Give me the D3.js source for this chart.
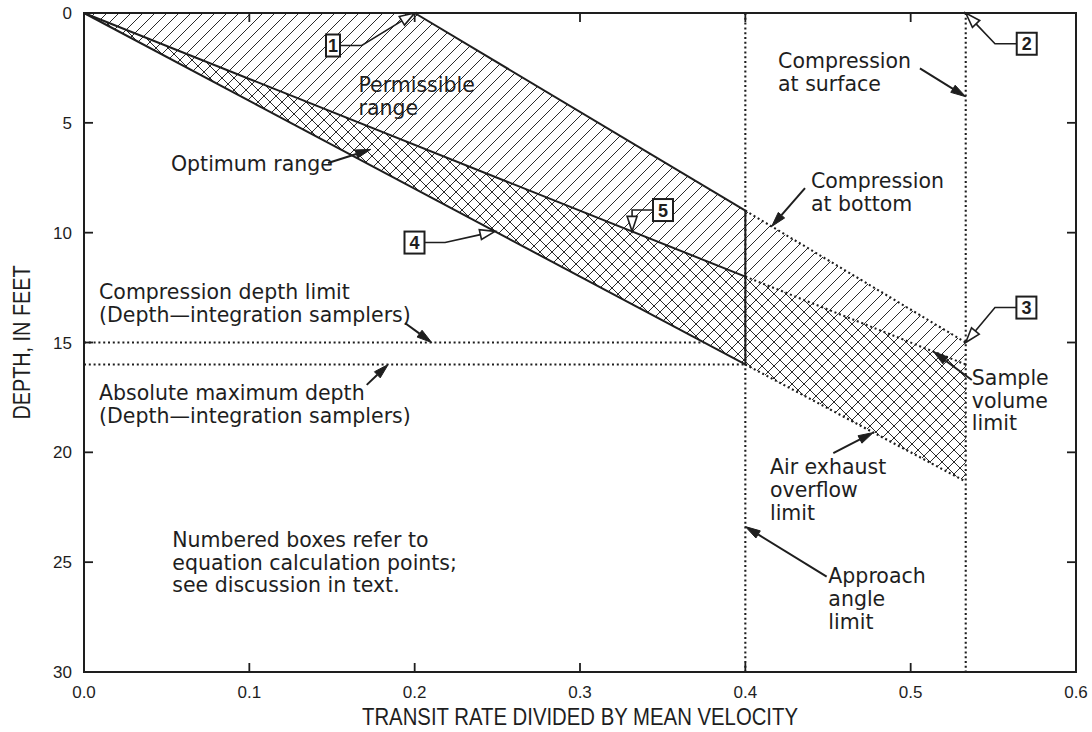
<!DOCTYPE html>
<html>
<head>
<meta charset="utf-8">
<script src="https://cdn.jsdelivr.net/npm/d3@7"></script>
<style>
  body { margin: 0; background: #fff; }
  svg { display: block; }
</style>
</head>
<body>
<script>
// ---- axis ticks and titles ----
const xTicks = [0, 0.1, 0.2, 0.3, 0.4, 0.5, 0.6];
const xTickLabels = ["0.0", "0.1", "0.2", "0.3", "0.4", "0.5", "0.6"];
const yTicks = [0, 5, 10, 15, 20, 25, 30];
const yTickLabels = ["0", "5", "10", "15", "20", "25", "30"];
const xTitle = "TRANSIT RATE DIVIDED BY MEAN VELOCITY";
const yTitle = "DEPTH, IN FEET";

// ---- limit lines: [transit rate / mean velocity, depth in feet] ----
const upperLimit = [[0, 0], [0.2, 0], [0.4, 9], [0.5333, 15]];      // compression at bottom
const middleLimit = [[0, 0], [0.4, 12], [0.5333, 16]];              // sample volume limit
const lowerLimit = [[0, 0], [0.4, 16], [0.5333, 21.33]];            // air exhaust overflow limit
const approachX = 0.4;          // approach angle limit
const surfaceX = 0.5333;        // compression at surface
const compressionDepth = 15;    // compression depth limit
const maxDepth = 16;            // absolute maximum depth

// ---- text notes: first baseline at (x, depth) ----
const textNotes = [
  { lines: ["Permissible", "range"], x: 0.166, d: 3.6 },
  { lines: ["Optimum range"], x: 0.0526, d: 7.17 },
  { lines: ["Compression", "at surface"], x: 0.4198, d: 2.52 },
  { lines: ["Compression", "at bottom"], x: 0.4397, d: 7.98 },
  { lines: ["Compression depth limit", "(Depth\u2014integration samplers)"], x: 0.0091, d: 13.04 },
  { lines: ["Absolute maximum depth", "(Depth\u2014integration samplers)"], x: 0.0091, d: 17.62 },
  { lines: ["Sample", "volume", "limit"], x: 0.537, d: 16.93 },
  { lines: ["Air exhaust", "overflow", "limit"], x: 0.4149, d: 20.99 },
  { lines: ["Approach", "angle", "limit"], x: 0.4502, d: 25.96 },
  { lines: ["Numbered boxes refer to", "equation calculation points;", "see discussion in text."], x: 0.0534, d: 24.3 }
];

// ---- solid pointer arrows from a note to a line ----
const pointerArrows = [
  { from: [0.1476, 6.83], to: [0.1734, 6.21] },
  { from: [0.5056, 2.52], to: [0.5333, 3.81] },
  { from: [0.4361, 7.97], to: [0.4159, 9.72] },
  { from: [0.1941, 14.11], to: [0.2103, 15] },
  { from: [0.171, 16.93], to: [0.184, 16] },
  { from: [0.537, 16.71], to: [0.5137, 15.41] },
  { from: [0.4532, 20.04], to: [0.4774, 19.1] },
  { from: [0.4492, 25.66], to: [0.4, 23.38] }
];

// ---- numbered equation calculation points ----
const pointBoxes = [
  { label: "1", box: [0.1506, 1.48], elbow: [0.168, 1.48], tip: [0.2, 0] },
  { label: "2", box: [0.5702, 1.40], elbow: [0.551, 1.40], tip: [0.5333, 0] },
  { label: "3", box: [0.570, 13.41], elbow: [0.551, 13.41], tip: [0.5333, 15] },
  { label: "4", box: [0.1999, 10.45], elbow: [0.2184, 10.45], tip: [0.2486, 9.94] },
  { label: "5", box: [0.3502, 8.97], elbow: [0.3315, 8.97], tip: [0.3315, 9.94] }
];

// ---- layout ----
const W = 1092, H = 732;
const ink = "#1e1e1e";
const textFont = "'DejaVu Sans', sans-serif";
const axisFont = "'Liberation Sans', Arial, sans-serif";

const svg = d3.select("body").append("svg").attr("width", W).attr("height", H);

const x = d3.scaleLinear().domain([0, 0.6]).range([84, 1076]);
const y = d3.scaleLinear().domain([0, 30]).range([13, 672]);
const P = p => [x(p[0]), y(p[1])];

// hatch patterns
const defs = svg.append("defs");
const hatch = defs.append("pattern").attr("id", "hatch")
  .attr("patternUnits", "userSpaceOnUse").attr("width", 12).attr("height", 12);
hatch.append("path").attr("d", "M-3,3 L3,-3 M0,12 L12,0 M9,15 L15,9")
  .attr("stroke", "#2a2a2a").attr("stroke-width", 1).attr("fill", "none");
const cross = defs.append("pattern").attr("id", "cross")
  .attr("patternUnits", "userSpaceOnUse").attr("width", 12).attr("height", 12);
cross.append("path").attr("d", "M-3,3 L3,-3 M0,12 L12,0 M9,15 L15,9 M-3,9 L3,15 M0,0 L12,12 M9,-3 L15,3")
  .attr("stroke", "#2a2a2a").attr("stroke-width", 1).attr("fill", "none");

const line = d3.line().x(d => x(d[0])).y(d => y(d[1]));

// shaded ranges
const permissible = upperLimit.concat(middleLimit.slice().reverse());
const optimum = middleLimit.concat(lowerLimit.slice().reverse());
svg.append("path").attr("d", line(permissible) + "Z").attr("fill", "url(#hatch)");
svg.append("path").attr("d", line(optimum) + "Z").attr("fill", "url(#cross)");

// solid / dotted parts of each limit line
const dotted = "2,2.8";
const dotW = 2.1;
function drawLimit(pts) {
  const solid = pts.filter(p => p[0] <= approachX);
  const beyond = pts.filter(p => p[0] >= approachX);
  // the first leg of the upper limit lies on the top frame, so skip it
  svg.append("path").attr("d", line(pts === upperLimit ? solid.slice(1) : solid))
    .attr("fill", "none").attr("stroke", ink).attr("stroke-width", 2);
  svg.append("path").attr("d", line(beyond))
    .attr("fill", "none").attr("stroke", ink).attr("stroke-width", dotW)
    .attr("stroke-dasharray", dotted);
}
[upperLimit, middleLimit, lowerLimit].forEach(drawLimit);

// depth where a limit line crosses a given ratio, and ratio at a given depth
function depthAt(pts, r) {
  for (let i = 1; i < pts.length; i++) {
    const a = pts[i - 1], b = pts[i];
    if (r >= a[0] && r <= b[0]) return a[1] + (b[1] - a[1]) * (r - a[0]) / (b[0] - a[0]);
  }
  return pts[pts.length - 1][1];
}
function ratioAt(pts, d) {
  for (let i = 1; i < pts.length; i++) {
    const a = pts[i - 1], b = pts[i];
    if (d >= a[1] && d <= b[1] && b[1] !== a[1]) return a[0] + (b[0] - a[0]) * (d - a[1]) / (b[1] - a[1]);
  }
  return pts[pts.length - 1][0];
}

// vertical limits
[approachX, surfaceX].forEach(v => {
  svg.append("line").attr("x1", x(v)).attr("x2", x(v)).attr("y1", y(0)).attr("y2", y(30))
    .attr("stroke", ink).attr("stroke-width", dotW).attr("stroke-dasharray", dotted);
});
svg.append("line").attr("x1", x(approachX)).attr("x2", x(approachX))
  .attr("y1", y(depthAt(upperLimit, approachX))).attr("y2", y(depthAt(lowerLimit, approachX)))
  .attr("stroke", ink).attr("stroke-width", 2);

// horizontal depth limits
[compressionDepth, maxDepth].forEach(dv => {
  svg.append("line").attr("x1", x(0)).attr("x2", x(ratioAt(lowerLimit, dv)))
    .attr("y1", y(dv)).attr("y2", y(dv))
    .attr("stroke", ink).attr("stroke-width", dotW).attr("stroke-dasharray", dotted);
});

// frame and inward ticks
svg.append("rect").attr("x", x(0)).attr("y", y(0)).attr("width", x(0.6) - x(0)).attr("height", y(30) - y(0))
  .attr("fill", "none").attr("stroke", ink).attr("stroke-width", 2);
const tl = 9;
const g = svg.append("g").attr("stroke", ink).attr("stroke-width", 1.8);
xTicks.slice(1, -1).forEach(t => {
  g.append("line").attr("x1", x(t)).attr("x2", x(t)).attr("y1", y(30)).attr("y2", y(30) - tl);
  g.append("line").attr("x1", x(t)).attr("x2", x(t)).attr("y1", y(0)).attr("y2", y(0) + tl);
});
yTicks.slice(1, -1).forEach(t => {
  g.append("line").attr("x1", x(0)).attr("x2", x(0) + tl).attr("y1", y(t)).attr("y2", y(t));
  g.append("line").attr("x1", x(0.6)).attr("x2", x(0.6) - tl).attr("y1", y(t)).attr("y2", y(t));
});

// tick labels
xTicks.forEach((t, i) => {
  svg.append("text").attr("x", x(t)).attr("y", 698).attr("text-anchor", "middle")
    .attr("font-family", axisFont).attr("font-size", 17).attr("fill", ink).text(xTickLabels[i]);
});
yTicks.forEach((t, i) => {
  svg.append("text").attr("x", 72).attr("y", y(t) + 6).attr("text-anchor", "end")
    .attr("font-family", axisFont).attr("font-size", 17).attr("fill", ink).text(yTickLabels[i]);
});

// axis titles
svg.append("text").attr("x", (x(0) + x(0.6)) / 2).attr("y", 725).attr("text-anchor", "middle")
  .attr("font-family", axisFont).attr("font-size", 23).attr("fill", ink)
  .attr("textLength", 436).attr("lengthAdjust", "spacingAndGlyphs").text(xTitle);
svg.append("text").attr("transform", `translate(30,${(y(0) + y(30)) / 2}) rotate(-90)`)
  .attr("text-anchor", "middle").attr("font-family", axisFont).attr("font-size", 23).attr("fill", ink)
  .attr("textLength", 154).attr("lengthAdjust", "spacingAndGlyphs").text(yTitle);

// notes
textNotes.forEach(n => {
  const t = svg.append("text").attr("font-family", textFont).attr("font-size", 20.5).attr("fill", ink);
  n.lines.forEach((s, i) => {
    t.append("tspan").attr("x", x(n.x)).attr("y", y(n.d) + i * 22.8).text(s);
  });
});

// arrowhead triangle pointing at tip, coming from 'from'
function headPts(tip, from, len, hw) {
  const dx = from[0] - tip[0], dy = from[1] - tip[1];
  const L = Math.hypot(dx, dy), ux = dx / L, uy = dy / L;
  const bx = tip[0] + ux * len, by = tip[1] + uy * len;
  return { base: [bx, by], pts: [tip, [bx - uy * hw, by + ux * hw], [bx + uy * hw, by - ux * hw]] };
}

pointerArrows.forEach(a => {
  const f = P(a.from), t = P(a.to);
  const h = headPts(t, f, 15, 4.2);
  svg.append("line").attr("x1", f[0]).attr("y1", f[1]).attr("x2", h.base[0]).attr("y2", h.base[1])
    .attr("stroke", ink).attr("stroke-width", 2);
  svg.append("polygon").attr("points", h.pts.map(p => p.join(",")).join(" ")).attr("fill", ink)
    .attr("stroke", ink).attr("stroke-width", 1).attr("stroke-linejoin", "round");
});

// numbered boxes with open-arrow leaders
pointBoxes.forEach(b => {
  const c = P(b.box), e = P(b.elbow), t = P(b.tip);
  const bw = b.label === "1" ? 14 : 20, bh = 22;
  const sx = e[0] > c[0] ? c[0] + bw / 2 : c[0] - bw / 2;
  const h = headPts(t, e, 15, 5);
  svg.append("polyline").attr("points", [[sx, e[1]], e, h.base].map(p => p.join(",")).join(" "))
    .attr("fill", "none").attr("stroke", ink).attr("stroke-width", 1.6);
  svg.append("polygon").attr("points", h.pts.map(p => p.join(",")).join(" "))
    .attr("fill", "#fff").attr("stroke", ink).attr("stroke-width", 1.6).attr("stroke-linejoin", "miter");
  svg.append("rect").attr("x", c[0] - bw / 2).attr("y", c[1] - bh / 2).attr("width", bw).attr("height", bh)
    .attr("fill", "#fff").attr("stroke", ink).attr("stroke-width", 2);
  svg.append("text").attr("x", c[0]).attr("y", c[1] + 6.5).attr("text-anchor", "middle")
    .attr("font-family", axisFont).attr("font-weight", "bold").attr("font-size", 18).attr("fill", ink)
    .text(b.label);
});
</script>
</body>
</html>
